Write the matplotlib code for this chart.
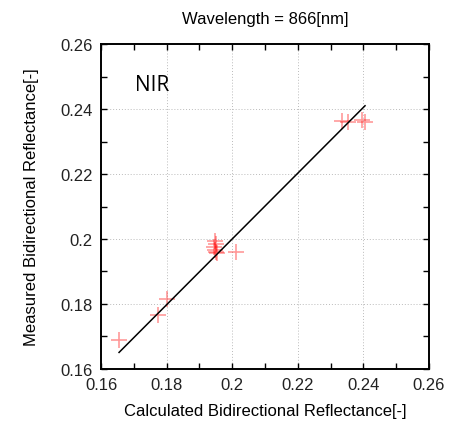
import numpy as np
import matplotlib.pyplot as plt
from matplotlib.ticker import MultipleLocator

plt.rcParams['font.family'] = ['Liberation Sans', 'DejaVu Sans']

# calculated vs measured reflectance (NIR, 866 nm)
calc = [0.1655, 0.1775, 0.1800, 0.1948, 0.1950, 0.1946, 0.1948, 0.1952, 0.1955,
        0.2011, 0.2334, 0.2354, 0.2395, 0.2405]
meas = [0.1689, 0.1766, 0.1815, 0.1995, 0.1986, 0.1975, 0.1966, 0.1961, 0.1957,
        0.1959, 0.2362, 0.2359, 0.2367, 0.2360]
fit_x = [0.1655, 0.2405]
fit_y = [0.1651, 0.2410]

fig = plt.figure(figsize=(4.53, 4.27), dpi=100)
ax = fig.add_axes([0.223, 0.1335, 0.724, 0.7611])

ax.plot(calc, meas, '+', color='red', alpha=0.4, markersize=11, markeredgewidth=1.2)
ax.plot(fit_x, fit_y, color='black', linewidth=1.1)

ax.set_xlim(0.16, 0.26)
ax.set_ylim(0.16, 0.26)
ax.xaxis.set_minor_locator(MultipleLocator(0.01))
ax.yaxis.set_minor_locator(MultipleLocator(0.01))
ax.set_xticks([0.16, 0.18, 0.2, 0.22, 0.24, 0.26])
ax.set_xticklabels(['0.16', '0.18', '0.2', '0.22', '0.24', '0.26'])
ax.set_yticks([0.16, 0.18, 0.2, 0.22, 0.24, 0.26])
ax.set_yticklabels(['0.16', '0.18', '0.2', '0.22', '0.24', '0.26'])
ax.tick_params(which='both', direction='in', top=True, right=True, length=4,
               width=1, labelsize=12, pad=6, labelcolor='#222222')
ax.grid(True, which='major', linestyle=(0, (1, 2)), color='#bbbbbb', linewidth=0.7)
for s in ax.spines.values():
    s.set_linewidth(1.4)

ax.set_xlabel('Calculated Bidirectional Reflectance[-]', fontsize=12, labelpad=8)
ax.set_ylabel('Measured Bidirectional Reflectance[-]', fontsize=12, labelpad=15)
ax.set_title('Wavelength = 866[nm]', fontsize=12, pad=15)
ax.text(0.1703, 0.2475, 'NIR', fontsize=15, family=['Open Sans', 'DejaVu Sans'],
        va='center')

fig.savefig('out.png', dpi=100)
